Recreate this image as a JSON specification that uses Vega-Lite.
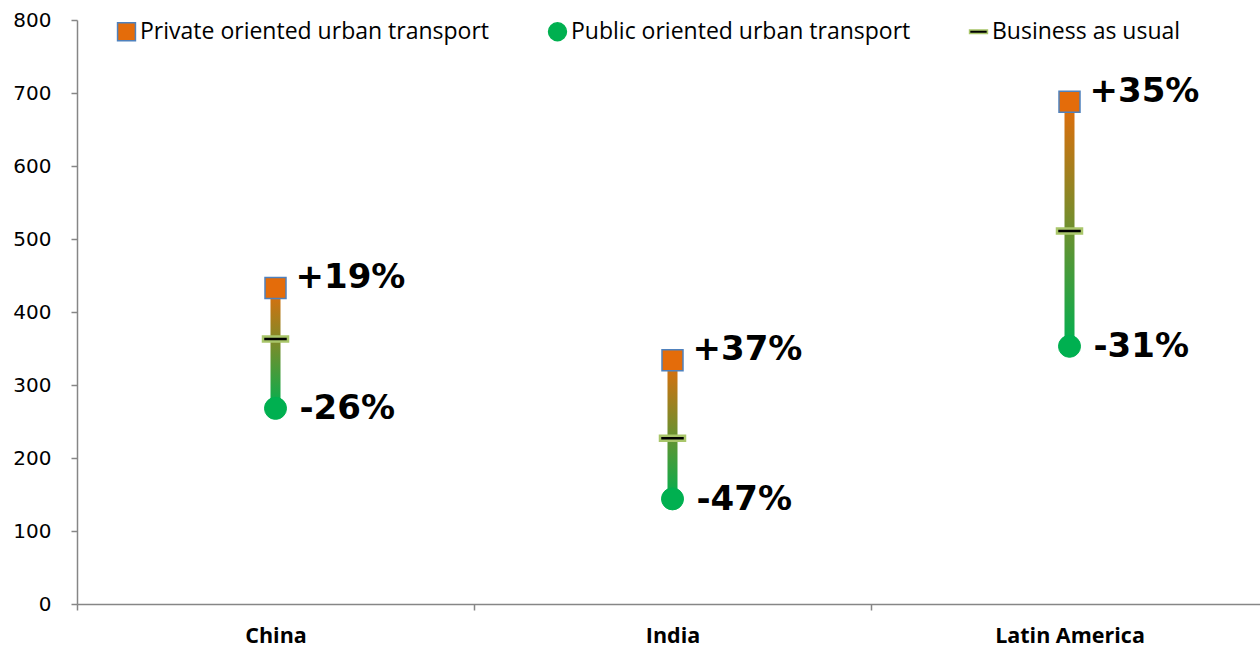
{
  "$schema": "https://vega.github.io/schema/vega-lite/v6.json",
  "width": 1183,
  "height": 584,
  "autosize": {"type": "none"},
  "padding": {"left": 77, "top": 20, "right": 0, "bottom": 44},
  "background": "white",
  "config": {
    "view": {"stroke": null},
    "font": "DejaVu Sans",
    "axis": {
      "domainColor": "#868686",
      "tickColor": "#868686",
      "domainWidth": 1.5,
      "tickWidth": 1.5,
      "tickSize": 6,
      "labelColor": "#000000",
      "labelFont": "DejaVu Sans",
      "labelFontSize": 20,
      "grid": false
    },
    "legend": {
      "title": null,
      "orient": "none",
      "legendX": 38,
      "legendY": 0,
      "direction": "horizontal",
      "symbolSize": 320,
      "symbolStrokeWidth": 1.5,
      "labelFont": "Open Sans",
      "labelFontSize": 23,
      "labelColor": "#000000",
      "labelOffset": 2,
      "columnPadding": 55,
      "labelLimit": 500
    }
  },
  "data": {
    "values": [
      {"region": "China", "scenario": "Private oriented urban transport", "value": 433, "change": "+19%"},
      {"region": "China", "scenario": "Business as usual", "value": 363},
      {"region": "China", "scenario": "Public oriented urban transport", "value": 268, "change": "-26%"},
      {"region": "India", "scenario": "Private oriented urban transport", "value": 334, "change": "+37%"},
      {"region": "India", "scenario": "Business as usual", "value": 227},
      {"region": "India", "scenario": "Public oriented urban transport", "value": 144, "change": "-47%"},
      {"region": "Latin America", "scenario": "Private oriented urban transport", "value": 688, "change": "+35%"},
      {"region": "Latin America", "scenario": "Business as usual", "value": 511},
      {"region": "Latin America", "scenario": "Public oriented urban transport", "value": 353, "change": "-31%"}
    ]
  },
  "encoding": {
    "x": {
      "field": "region",
      "type": "nominal",
      "sort": ["China", "India", "Latin America"],
      "scale": {"range": [0, 1191], "paddingInner": 0, "paddingOuter": 0},
      "axis": {
        "title": null,
        "labelAngle": 0,
        "labelFont": "Open Sans",
        "labelFontSize": 21.5,
        "labelFontWeight": "bold",
        "labelPadding": 15,
        "tickBand": "extent"
      }
    }
  },
  "layer": [
    {
      "transform": [{"pivot": "scenario", "value": "value", "groupby": ["region"]}],
      "mark": {
        "type": "bar",
        "size": 10,
        "color": {
          "gradient": "linear",
          "x1": 0, "y1": 0, "x2": 0, "y2": 1,
          "stops": [
            {"offset": 0, "color": "#E46C0A"},
            {"offset": 1, "color": "#00B050"}
          ]
        }
      },
      "encoding": {
        "y": {
          "field": "Private oriented urban transport",
          "type": "quantitative",
          "scale": {"domain": [0, 800], "nice": false},
          "axis": {"title": null, "values": [0, 100, 200, 300, 400, 500, 600, 700, 800], "labelPadding": 20}
        },
        "y2": {"field": "Public oriented urban transport"}
      }
    },
    {
      "encoding": {
        "y": {
          "field": "value",
          "type": "quantitative",
          "scale": {"domain": [0, 800], "nice": false},
          "axis": {"title": null, "values": [0, 100, 200, 300, 400, 500, 600, 700, 800], "labelPadding": 20}
        },
        "shape": {
          "field": "scenario",
          "type": "nominal",
          "scale": {
            "domain": ["Private oriented urban transport", "Public oriented urban transport", "Business as usual"],
            "range": ["square", "circle", "M-1,-0.2H1V0.2H-1Z"]
          }
        },
        "color": {
          "field": "scenario",
          "type": "nominal",
          "scale": {
            "domain": ["Private oriented urban transport", "Public oriented urban transport", "Business as usual"],
            "range": ["#E46C0A", "#00B050", "#000000"]
          }
        },
        "stroke": {
          "field": "scenario",
          "type": "nominal",
          "scale": {
            "domain": ["Private oriented urban transport", "Public oriented urban transport", "Business as usual"],
            "range": ["#4F81BD", "#00B050", "#A9C66A"]
          }
        }
      },
      "layer": [
        {
          "transform": [{"filter": "datum.scenario === 'Private oriented urban transport'"}],
          "mark": {"type": "point", "filled": true, "opacity": 1, "size": 441, "strokeWidth": 1.5}
        },
        {
          "transform": [{"filter": "datum.scenario === 'Public oriented urban transport'"}],
          "mark": {"type": "point", "filled": true, "opacity": 1, "size": 484, "strokeWidth": 1}
        },
        {
          "transform": [{"filter": "datum.scenario === 'Business as usual'"}],
          "mark": {"type": "point", "filled": true, "opacity": 1, "size": 625, "strokeWidth": 2.5}
        }
      ]
    },
    {
      "transform": [{"filter": "datum.scenario === 'Private oriented urban transport'"}],
      "mark": {
        "type": "text", "align": "left", "baseline": "middle", "dx": 20, "dy": -10,
        "font": "DejaVu Sans", "fontWeight": "bold", "fontSize": 34, "color": "#000000"
      },
      "encoding": {
        "y": {"field": "value", "type": "quantitative"},
        "text": {"field": "change"}
      }
    },
    {
      "transform": [{"filter": "datum.scenario === 'Public oriented urban transport'"}],
      "mark": {
        "type": "text", "align": "left", "baseline": "middle", "dx": 24, "dy": 1,
        "font": "DejaVu Sans", "fontWeight": "bold", "fontSize": 34, "color": "#000000"
      },
      "encoding": {
        "y": {"field": "value", "type": "quantitative"},
        "text": {"field": "change"}
      }
    }
  ]
}
